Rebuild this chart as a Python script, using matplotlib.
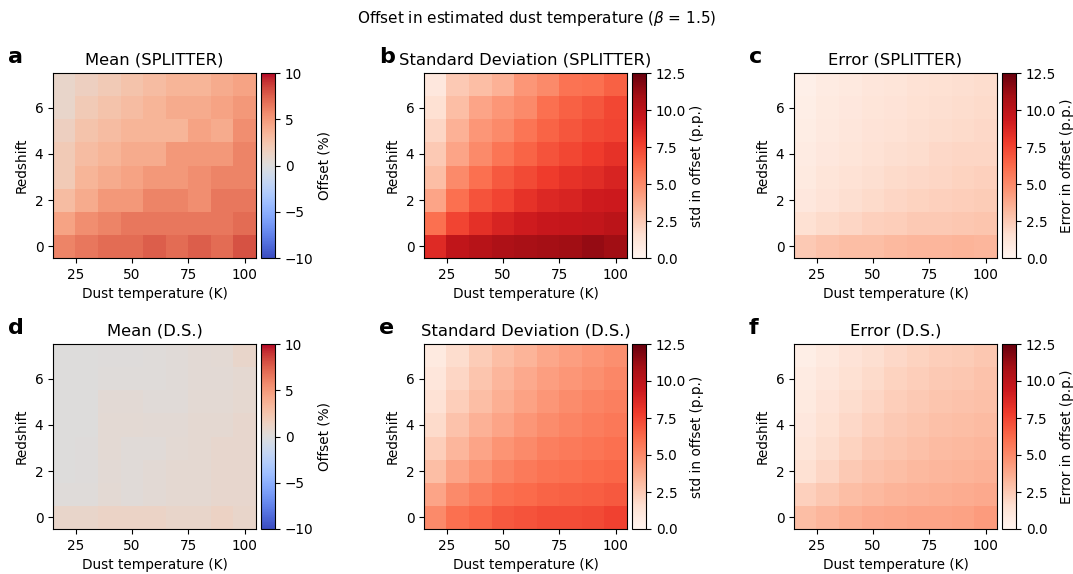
import numpy as np
import matplotlib
matplotlib.use("Agg")
import matplotlib.pyplot as plt

# grid: dust temperature (K) x redshift
temps = [20, 30, 40, 50, 60, 70, 80, 90, 100]
redshifts = [0, 1, 2, 3, 4, 5, 6, 7]

# rows = redshift 0..7, columns = temperature 20..100
mean_splitter = [
    [6.0, 6.5, 7.0, 7.0, 7.5, 7.0, 7.5, 7.0, 8.0],
    [4.5, 5.5, 6.0, 6.5, 6.5, 6.5, 6.5, 6.5, 7.0],
    [3.0, 4.0, 5.0, 5.0, 6.0, 6.0, 5.5, 6.5, 6.5],
    [2.0, 3.5, 4.0, 4.5, 5.0, 5.0, 5.5, 6.0, 6.0],
    [2.0, 3.0, 3.5, 4.0, 4.0, 5.0, 5.0, 5.0, 6.0],
    [1.5, 2.5, 3.0, 3.5, 3.5, 3.5, 4.5, 4.0, 5.5],
    [1.0, 2.0, 2.5, 3.0, 3.5, 4.0, 4.0, 4.5, 5.0],
    [1.0, 1.5, 2.0, 2.5, 3.0, 3.5, 3.5, 4.0, 4.5],
]
std_splitter = [
    [8.5, 9.8, 10.2, 10.5, 10.7, 10.9, 11.0, 11.3, 11.0],
    [6.0, 7.5, 8.3, 8.8, 9.2, 9.5, 9.6, 9.7, 10.0],
    [4.0, 6.0, 7.0, 7.5, 8.2, 8.6, 8.8, 9.2, 9.3],
    [3.0, 5.0, 6.0, 6.8, 7.3, 7.8, 8.2, 8.4, 8.8],
    [2.5, 4.0, 5.0, 5.8, 6.4, 7.0, 7.4, 7.8, 8.2],
    [2.0, 3.5, 4.5, 5.0, 5.8, 6.4, 6.9, 7.3, 7.5],
    [1.5, 3.0, 4.0, 4.5, 5.0, 6.0, 6.5, 6.9, 7.4],
    [1.0, 2.5, 3.0, 3.5, 4.5, 5.0, 5.9, 6.0, 6.5],
]
err_splitter = [
    [2.5, 2.8, 3.0, 3.0, 3.2, 3.3, 3.3, 3.4, 3.3],
    [1.5, 1.8, 2.0, 2.2, 2.3, 2.5, 2.5, 2.6, 2.7],
    [1.0, 1.3, 1.6, 1.8, 2.0, 2.1, 2.2, 2.3, 2.4],
    [0.8, 1.2, 1.4, 1.6, 1.8, 1.9, 2.0, 2.1, 2.2],
    [0.7, 1.0, 1.2, 1.4, 1.6, 1.7, 1.9, 2.0, 2.0],
    [0.6, 0.9, 1.1, 1.3, 1.4, 1.6, 1.7, 1.8, 1.9],
    [0.5, 0.8, 1.0, 1.2, 1.3, 1.5, 1.6, 1.7, 1.8],
    [0.4, 0.7, 0.9, 1.1, 1.2, 1.4, 1.5, 1.6, 1.7],
]
mean_ds = [
    [1.0, 1.0, 1.2, 1.2, 1.2, 1.0, 1.0, 1.3, 1.0],
    [0.2, 0.2, 0.5, 0.3, 0.4, 0.6, 0.6, 0.8, 0.8],
    [0.0, 0.1, 0.4, 0.3, 0.4, 0.6, 0.6, 0.8, 0.8],
    [0.0, 0.1, 0.5, 0.3, 0.3, 0.5, 0.6, 0.8, 0.8],
    [0.0, 0.0, 0.5, 0.5, 0.4, 0.4, 0.6, 0.6, 0.8],
    [0.0, 0.0, 0.4, 0.4, 0.3, 0.3, 0.5, 0.5, 0.7],
    [0.0, 0.0, 0.2, 0.2, 0.2, 0.3, 0.4, 0.4, 0.6],
    [0.0, 0.0, 0.1, 0.1, 0.2, 0.3, 0.4, 0.5, 1.0],
]
std_ds = [
    [5.0, 6.0, 6.3, 6.8, 7.0, 7.2, 7.2, 7.3, 7.6],
    [4.0, 5.0, 5.5, 6.0, 6.2, 6.4, 6.5, 6.6, 6.8],
    [3.0, 4.0, 4.6, 5.2, 5.6, 5.9, 6.0, 6.2, 6.3],
    [2.3, 3.3, 4.0, 4.6, 5.0, 5.4, 5.6, 5.8, 6.0],
    [1.8, 2.8, 3.5, 4.0, 4.5, 4.9, 5.2, 5.5, 5.7],
    [1.4, 2.3, 3.0, 3.6, 4.1, 4.5, 4.9, 5.2, 5.4],
    [1.1, 2.0, 2.7, 3.3, 3.8, 4.2, 4.5, 4.8, 5.1],
    [0.8, 1.7, 2.4, 3.0, 3.4, 3.9, 4.2, 4.5, 4.8],
]
err_ds = [
    [3.0, 3.3, 3.6, 3.8, 3.9, 4.0, 4.0, 4.1, 4.3],
    [2.2, 2.6, 3.0, 3.2, 3.4, 3.5, 3.6, 3.7, 3.8],
    [1.5, 2.0, 2.5, 2.8, 3.0, 3.2, 3.3, 3.4, 3.5],
    [1.2, 1.7, 2.1, 2.5, 2.7, 2.9, 3.1, 3.2, 3.3],
    [1.0, 1.5, 1.9, 2.2, 2.5, 2.7, 2.9, 3.0, 3.1],
    [0.8, 1.3, 1.7, 2.0, 2.3, 2.5, 2.7, 2.8, 2.9],
    [0.7, 1.1, 1.5, 1.8, 2.1, 2.3, 2.5, 2.6, 2.8],
    [0.5, 0.9, 1.3, 1.6, 1.9, 2.1, 2.3, 2.4, 2.6],
]

plt.rcParams["font.size"] = 9.8
plt.rcParams["axes.titlesize"] = 11.8

W, H = 1073, 574
fig = plt.figure(figsize=(W / 100, H / 100), dpi=100)
fig.suptitle(r"Offset in estimated dust temperature ($\beta$ = 1.5)", y=0.985, fontsize=11)

dx = temps[1] - temps[0]
extent = [temps[0] - dx / 2, temps[-1] + dx / 2, redshifts[0] - 0.5, redshifts[-1] + 0.5]

panels = [
    ("a", "Mean (SPLITTER)", mean_splitter, "coolwarm", -10, 10, "Offset (%)", 53, 73),
    ("b", "Standard Deviation (SPLITTER)", std_splitter, "Reds", 0, 12.5, "std in offset (p.p.)", 424, 73),
    ("c", "Error (SPLITTER)", err_splitter, "Reds", 0, 12.5, "Error in offset (p.p.)", 794, 73),
    ("d", "Mean (D.S.)", mean_ds, "coolwarm", -10, 10, "Offset (%)", 53, 344),
    ("e", "Standard Deviation (D.S.)", std_ds, "Reds", 0, 12.5, "std in offset (p.p.)", 424, 344),
    ("f", "Error (D.S.)", err_ds, "Reds", 0, 12.5, "Error in offset (p.p.)", 794, 344),
]

aw, ah = 203, 185
for letter, title, data, cmap, vmin, vmax, clabel, px, py in panels:
    ax = fig.add_axes([px / W, 1 - (py + ah) / H, aw / W, ah / H])
    im = ax.imshow(np.array(data), origin="lower", extent=extent, aspect="auto",
                   cmap=cmap, vmin=vmin, vmax=vmax)
    ax.set_xticks([25, 50, 75, 100])
    ax.set_yticks([0, 2, 4, 6])
    ax.set_xlabel("Dust temperature (K)")
    ax.set_ylabel("Redshift")
    ax.set_title(title)
    cax = fig.add_axes([(px + aw + 5) / W, 1 - (py + ah) / H, 14 / W, ah / H])
    cb = fig.colorbar(im, cax=cax)
    cb.set_label(clabel, labelpad=3)
    fig.text((px - 45) / W, 1 - (py - 16) / H, letter, fontsize=16, fontweight="bold",
             ha="left", va="center")

fig.savefig("out.png", dpi=100)
